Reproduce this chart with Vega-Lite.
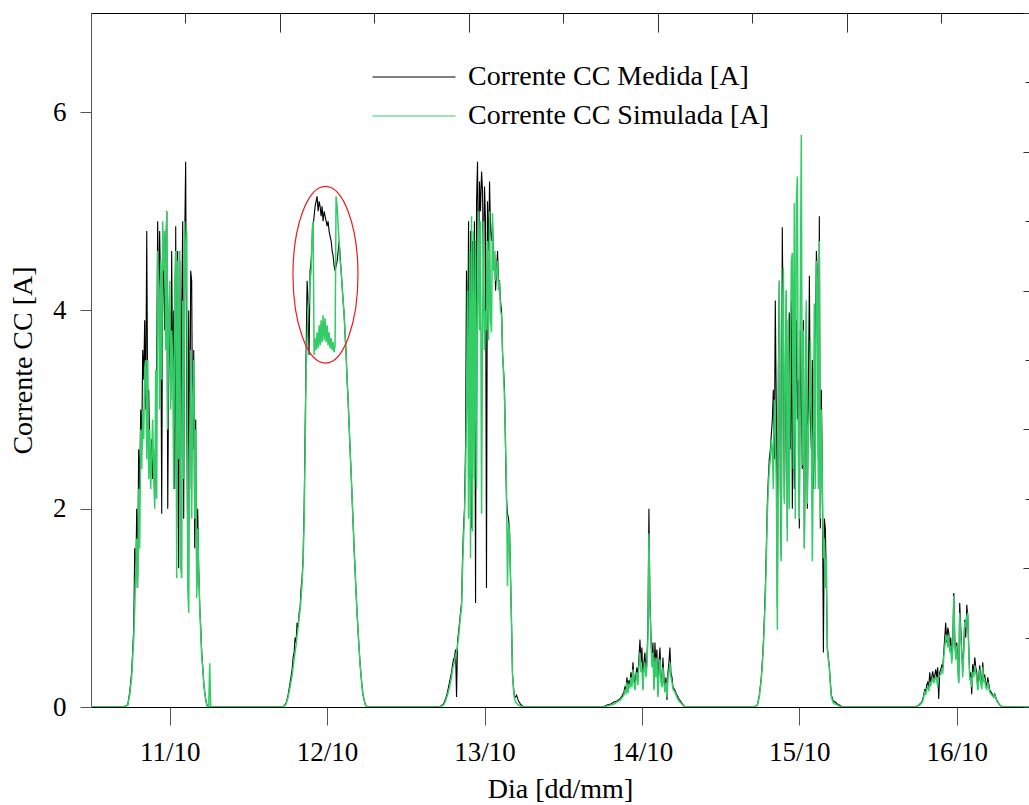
{
  "$schema": "https://vega.github.io/schema/vega-lite/v6.json",
  "width": 938,
  "height": 694,
  "autosize": {"type": "none"},
  "padding": {"left": 91, "top": 13, "right": 0, "bottom": 98},
  "background": "white",
  "config": {
    "view": {"stroke": null},
    "font": "Liberation Serif",
    "axis": {"grid": false, "labelFont": "Liberation Serif", "titleFont": "Liberation Serif", "labelColor": "#000", "titleColor": "#000", "titleFontWeight": "normal", "domainColor": "#000", "tickColor": "#444", "labelOverlap": false}
  },
  "datasets": {
    "d": [
      {"t":0,"m":0,"s":0},
      {"t":299,"m":0,"s":0},
      {"t":336,"m":0.02,"s":0.02},
      {"t":354,"m":0.15,"s":0.12},
      {"t":372,"m":0.35,"s":0.3},
      {"t":391,"m":0.8,"s":0.7},
      {"t":400,"m":1.6,"s":1.0},
      {"t":409,"m":1.2,"s":1.4},
      {"t":418,"m":2.0,"s":1.7},
      {"t":427,"m":1.3,"s":1.2},
      {"t":436,"m":2.6,"s":2.2},
      {"t":445,"m":2.2,"s":1.6},
      {"t":455,"m":3.0,"s":2.8},
      {"t":464,"m":2.6,"s":2.4},
      {"t":473,"m":3.6,"s":3.0},
      {"t":482,"m":3.3,"s":2.7},
      {"t":491,"m":3.9,"s":3.4},
      {"t":500,"m":3.0,"s":3.5},
      {"t":510,"m":4.8,"s":2.5},
      {"t":519,"m":2.9,"s":3.5},
      {"t":528,"m":3.2,"s":2.3},
      {"t":537,"m":2.6,"s":2.8},
      {"t":546,"m":2.4,"s":2.2},
      {"t":555,"m":2.7,"s":2.5},
      {"t":564,"m":2.3,"s":2.9},
      {"t":574,"m":2.6,"s":2.3},
      {"t":583,"m":2.1,"s":2.0},
      {"t":592,"m":2.5,"s":3.4},
      {"t":601,"m":3.5,"s":2.1},
      {"t":610,"m":4.9,"s":4.6},
      {"t":619,"m":3.9,"s":4.2},
      {"t":628,"m":4.8,"s":3.0},
      {"t":638,"m":4.1,"s":4.5},
      {"t":647,"m":1.95,"s":3.3},
      {"t":656,"m":4.7,"s":4.9},
      {"t":665,"m":4.3,"s":4.4},
      {"t":674,"m":3.8,"s":4.8},
      {"t":683,"m":4.6,"s":3.6},
      {"t":693,"m":5.0,"s":5.0},
      {"t":702,"m":2.0,"s":2.8},
      {"t":711,"m":3.4,"s":4.0},
      {"t":720,"m":4.0,"s":4.3},
      {"t":729,"m":3.1,"s":3.0},
      {"t":738,"m":4.6,"s":3.8},
      {"t":747,"m":3.3,"s":3.5},
      {"t":757,"m":4.0,"s":2.2},
      {"t":766,"m":2.2,"s":4.3},
      {"t":775,"m":4.85,"s":4.6},
      {"t":784,"m":1.8,"s":1.3},
      {"t":793,"m":4.6,"s":4.5},
      {"t":802,"m":1.4,"s":2.5},
      {"t":812,"m":4.5,"s":4.6},
      {"t":821,"m":2.5,"s":1.4},
      {"t":830,"m":4.0,"s":1.3},
      {"t":839,"m":4.9,"s":4.1},
      {"t":848,"m":1.9,"s":2.3},
      {"t":857,"m":4.7,"s":4.9},
      {"t":866,"m":5.5,"s":4.2},
      {"t":876,"m":3.0,"s":4.8},
      {"t":885,"m":1.5,"s":1.2},
      {"t":894,"m":4.0,"s":0.95},
      {"t":903,"m":2.2,"s":2.7},
      {"t":912,"m":4.4,"s":3.6},
      {"t":921,"m":4.3,"s":1.9},
      {"t":930,"m":2.6,"s":3.1},
      {"t":940,"m":3.6,"s":3.5},
      {"t":949,"m":1.6,"s":1.9},
      {"t":958,"m":2.9,"s":2.8},
      {"t":967,"m":1.2,"s":1.1},
      {"t":976,"m":2.0,"s":1.8},
      {"t":985,"m":1.4,"s":1.4},
      {"t":995,"m":1.0,"s":1.0},
      {"t":1004,"m":0.8,"s":0.75},
      {"t":1013,"m":0.55,"s":0.5},
      {"t":1022,"m":0.4,"s":0.4},
      {"t":1031,"m":0.25,"s":0.25},
      {"t":1040,"m":0.15,"s":0.15},
      {"t":1049,"m":0.08,"s":0.08},
      {"t":1058,"m":0.03,"s":0.03},
      {"t":1067,"m":0,"s":0},
      {"t":1077,"m":0,"s":0},
      {"t":1086,"m":0,"s":0.44},
      {"t":1095,"m":0,"s":0},
      {"t":1757,"m":0,"s":0},
      {"t":1785,"m":0.04,"s":0.03},
      {"t":1803,"m":0.12,"s":0.1},
      {"t":1821,"m":0.24,"s":0.2},
      {"t":1840,"m":0.38,"s":0.32},
      {"t":1849,"m":0.5,"s":0.4},
      {"t":1858,"m":0.55,"s":0.48},
      {"t":1867,"m":0.7,"s":0.55},
      {"t":1876,"m":0.65,"s":0.62},
      {"t":1885,"m":0.85,"s":0.72},
      {"t":1895,"m":0.8,"s":0.8},
      {"t":1904,"m":0.95,"s":0.9},
      {"t":1913,"m":1.0,"s":0.98},
      {"t":1922,"m":1.2,"s":1.1},
      {"t":1931,"m":1.3,"s":1.25},
      {"t":1940,"m":1.5,"s":1.45},
      {"t":1950,"m":2.0,"s":1.9},
      {"t":1959,"m":2.8,"s":2.6},
      {"t":1968,"m":3.6,"s":3.4},
      {"t":1977,"m":4.3,"s":3.7},
      {"t":1986,"m":4.1,"s":4.0},
      {"t":1995,"m":3.55,"s":4.1},
      {"t":2004,"m":4.4,"s":4.3},
      {"t":2014,"m":4.5,"s":4.4},
      {"t":2023,"m":4.7,"s":4.8},
      {"t":2032,"m":4.85,"s":4.9},
      {"t":2041,"m":4.95,"s":3.55},
      {"t":2050,"m":5.05,"s":3.72},
      {"t":2059,"m":5.1,"s":3.6},
      {"t":2068,"m":5.15,"s":3.78},
      {"t":2078,"m":5.0,"s":3.62},
      {"t":2087,"m":5.1,"s":3.85},
      {"t":2096,"m":5.05,"s":3.65},
      {"t":2105,"m":4.95,"s":3.9},
      {"t":2114,"m":5.05,"s":3.68},
      {"t":2123,"m":4.9,"s":3.95},
      {"t":2133,"m":5.0,"s":3.7},
      {"t":2142,"m":4.95,"s":3.92},
      {"t":2151,"m":4.9,"s":3.68},
      {"t":2160,"m":4.85,"s":3.85},
      {"t":2169,"m":4.9,"s":3.65},
      {"t":2178,"m":4.8,"s":3.78},
      {"t":2187,"m":4.75,"s":3.62},
      {"t":2197,"m":4.7,"s":3.72},
      {"t":2206,"m":4.6,"s":3.6},
      {"t":2215,"m":4.55,"s":3.68},
      {"t":2224,"m":4.45,"s":3.58},
      {"t":2233,"m":4.4,"s":3.65},
      {"t":2242,"m":4.45,"s":5.15},
      {"t":2252,"m":4.5,"s":5.05},
      {"t":2261,"m":4.6,"s":4.85},
      {"t":2270,"m":4.7,"s":4.7},
      {"t":2279,"m":4.55,"s":4.5},
      {"t":2288,"m":4.4,"s":4.4},
      {"t":2297,"m":4.25,"s":4.25},
      {"t":2306,"m":4.1,"s":4.1},
      {"t":2316,"m":3.95,"s":3.95},
      {"t":2325,"m":3.75,"s":3.75},
      {"t":2334,"m":3.55,"s":3.55},
      {"t":2343,"m":3.3,"s":3.3},
      {"t":2352,"m":3.1,"s":3.1},
      {"t":2361,"m":2.85,"s":2.85},
      {"t":2370,"m":2.6,"s":2.6},
      {"t":2380,"m":2.35,"s":2.35},
      {"t":2389,"m":2.1,"s":2.1},
      {"t":2398,"m":1.85,"s":1.85},
      {"t":2407,"m":1.6,"s":1.6},
      {"t":2416,"m":1.38,"s":1.38},
      {"t":2425,"m":1.15,"s":1.15},
      {"t":2434,"m":0.95,"s":0.95},
      {"t":2444,"m":0.75,"s":0.75},
      {"t":2453,"m":0.58,"s":0.58},
      {"t":2462,"m":0.43,"s":0.43},
      {"t":2471,"m":0.31,"s":0.31},
      {"t":2480,"m":0.2,"s":0.2},
      {"t":2489,"m":0.12,"s":0.12},
      {"t":2499,"m":0.07,"s":0.07},
      {"t":2508,"m":0.03,"s":0.03},
      {"t":2517,"m":0.01,"s":0.01},
      {"t":2535,"m":0,"s":0},
      {"t":3188,"m":0,"s":0},
      {"t":3225,"m":0.03,"s":0.02},
      {"t":3243,"m":0.08,"s":0.06},
      {"t":3261,"m":0.15,"s":0.12},
      {"t":3280,"m":0.25,"s":0.2},
      {"t":3298,"m":0.35,"s":0.3},
      {"t":3307,"m":0.42,"s":0.38},
      {"t":3316,"m":0.48,"s":0.42},
      {"t":3325,"m":0.5,"s":0.46},
      {"t":3335,"m":0.58,"s":0.52},
      {"t":3344,"m":0.1,"s":0.56},
      {"t":3353,"m":0.66,"s":0.62},
      {"t":3362,"m":0.75,"s":0.7},
      {"t":3371,"m":0.85,"s":0.8},
      {"t":3380,"m":0.95,"s":0.92},
      {"t":3390,"m":1.05,"s":1.0},
      {"t":3399,"m":1.5,"s":1.4},
      {"t":3408,"m":1.8,"s":1.7},
      {"t":3417,"m":2.0,"s":1.95},
      {"t":3426,"m":2.6,"s":2.3},
      {"t":3435,"m":4.4,"s":3.0},
      {"t":3444,"m":3.2,"s":4.2},
      {"t":3454,"m":4.9,"s":1.9},
      {"t":3463,"m":2.3,"s":4.6},
      {"t":3472,"m":4.8,"s":1.5},
      {"t":3481,"m":1.8,"s":4.95},
      {"t":3490,"m":4.7,"s":1.77},
      {"t":3499,"m":3.9,"s":4.8},
      {"t":3508,"m":4.9,"s":2.3},
      {"t":3518,"m":1.05,"s":4.7},
      {"t":3527,"m":5.1,"s":2.2},
      {"t":3536,"m":5.5,"s":3.9},
      {"t":3545,"m":4.2,"s":5.0},
      {"t":3554,"m":5.3,"s":3.8},
      {"t":3563,"m":5.0,"s":4.9},
      {"t":3573,"m":5.4,"s":1.95},
      {"t":3582,"m":5.2,"s":3.8},
      {"t":3591,"m":4.3,"s":4.9},
      {"t":3600,"m":5.25,"s":3.6},
      {"t":3609,"m":4.9,"s":4.0},
      {"t":3618,"m":1.2,"s":3.8},
      {"t":3627,"m":5.1,"s":4.7},
      {"t":3637,"m":4.6,"s":3.7},
      {"t":3646,"m":5.3,"s":5.0},
      {"t":3655,"m":4.8,"s":3.9},
      {"t":3664,"m":4.7,"s":3.78},
      {"t":3673,"m":4.9,"s":4.98},
      {"t":3682,"m":4.5,"s":4.4},
      {"t":3692,"m":4.6,"s":4.6},
      {"t":3701,"m":4.2,"s":4.3},
      {"t":3710,"m":4.4,"s":4.4},
      {"t":3719,"m":4.6,"s":4.5},
      {"t":3728,"m":4.3,"s":4.2},
      {"t":3737,"m":4.3,"s":4.3},
      {"t":3746,"m":4.1,"s":4.0},
      {"t":3756,"m":3.99,"s":3.95},
      {"t":3765,"m":3.55,"s":3.6},
      {"t":3774,"m":3.4,"s":3.35},
      {"t":3783,"m":3.2,"s":3.1},
      {"t":3792,"m":2.6,"s":2.7},
      {"t":3801,"m":2.1,"s":2.2},
      {"t":3810,"m":1.95,"s":1.22},
      {"t":3820,"m":1.9,"s":1.85},
      {"t":3829,"m":1.77,"s":1.75},
      {"t":3838,"m":1.3,"s":1.3},
      {"t":3847,"m":0.85,"s":0.85},
      {"t":3856,"m":0.33,"s":0.33},
      {"t":3865,"m":0.2,"s":0.18},
      {"t":3875,"m":0.1,"s":0.08},
      {"t":3884,"m":0.1,"s":0.05},
      {"t":3893,"m":0.12,"s":0.04},
      {"t":3911,"m":0.06,"s":0.02},
      {"t":3929,"m":0.03,"s":0.01},
      {"t":3957,"m":0,"s":0},
      {"t":4683,"m":0,"s":0},
      {"t":4720,"m":0.02,"s":0.01},
      {"t":4756,"m":0.03,"s":0.02},
      {"t":4784,"m":0.05,"s":0.03},
      {"t":4811,"m":0.06,"s":0.05},
      {"t":4839,"m":0.08,"s":0.07},
      {"t":4857,"m":0.11,"s":0.09},
      {"t":4875,"m":0.15,"s":0.12},
      {"t":4884,"m":0.2,"s":0.16},
      {"t":4894,"m":0.18,"s":0.14},
      {"t":4903,"m":0.3,"s":0.25},
      {"t":4912,"m":0.2,"s":0.14},
      {"t":4921,"m":0.27,"s":0.22},
      {"t":4930,"m":0.22,"s":0.2},
      {"t":4939,"m":0.35,"s":0.3},
      {"t":4948,"m":0.25,"s":0.2},
      {"t":4958,"m":0.45,"s":0.38},
      {"t":4967,"m":0.3,"s":0.25},
      {"t":4976,"m":0.2,"s":0.17},
      {"t":4985,"m":0.32,"s":0.28},
      {"t":4994,"m":0.4,"s":0.35},
      {"t":5003,"m":0.3,"s":0.22},
      {"t":5013,"m":0.5,"s":0.42},
      {"t":5022,"m":0.68,"s":0.55},
      {"t":5031,"m":0.45,"s":0.35},
      {"t":5040,"m":0.6,"s":0.4},
      {"t":5049,"m":0.2,"s":0.17},
      {"t":5058,"m":0.45,"s":0.38},
      {"t":5067,"m":0.55,"s":0.45},
      {"t":5077,"m":0.35,"s":0.3},
      {"t":5086,"m":0.5,"s":0.42},
      {"t":5095,"m":0.8,"s":0.7},
      {"t":5104,"m":2.0,"s":1.75},
      {"t":5113,"m":1.1,"s":1.0},
      {"t":5122,"m":0.75,"s":0.68},
      {"t":5132,"m":0.45,"s":0.4},
      {"t":5141,"m":0.65,"s":0.55},
      {"t":5150,"m":0.2,"s":0.17},
      {"t":5159,"m":0.65,"s":0.5},
      {"t":5168,"m":0.4,"s":0.3},
      {"t":5177,"m":0.58,"s":0.5},
      {"t":5186,"m":0.12,"s":0.1},
      {"t":5196,"m":0.45,"s":0.35},
      {"t":5205,"m":0.6,"s":0.48},
      {"t":5214,"m":0.3,"s":0.25},
      {"t":5223,"m":0.22,"s":0.2},
      {"t":5232,"m":0.5,"s":0.4},
      {"t":5241,"m":0.3,"s":0.25},
      {"t":5250,"m":0.17,"s":0.15},
      {"t":5260,"m":0.3,"s":0.25},
      {"t":5269,"m":0.07,"s":0.1},
      {"t":5278,"m":0.35,"s":0.3},
      {"t":5287,"m":0.45,"s":0.35},
      {"t":5296,"m":0.6,"s":0.45},
      {"t":5305,"m":0.35,"s":0.3},
      {"t":5315,"m":0.3,"s":0.25},
      {"t":5324,"m":0.2,"s":0.18},
      {"t":5342,"m":0.17,"s":0.15},
      {"t":5360,"m":0.12,"s":0.1},
      {"t":5379,"m":0.08,"s":0.06},
      {"t":5406,"m":0.04,"s":0.03},
      {"t":5433,"m":0,"s":0},
      {"t":6068,"m":0,"s":0},
      {"t":6096,"m":0.02,"s":0.02},
      {"t":6114,"m":0.12,"s":0.1},
      {"t":6132,"m":0.3,"s":0.28},
      {"t":6141,"m":0.45,"s":0.42},
      {"t":6151,"m":0.65,"s":0.6},
      {"t":6160,"m":0.9,"s":0.85},
      {"t":6169,"m":1.2,"s":1.1},
      {"t":6178,"m":1.6,"s":1.5},
      {"t":6187,"m":2.05,"s":1.95},
      {"t":6196,"m":2.3,"s":2.2},
      {"t":6205,"m":2.5,"s":2.4},
      {"t":6215,"m":2.6,"s":2.5},
      {"t":6224,"m":2.75,"s":2.7},
      {"t":6233,"m":2.9,"s":2.6},
      {"t":6242,"m":3.2,"s":2.2},
      {"t":6251,"m":2.5,"s":3.1},
      {"t":6260,"m":4.1,"s":2.9},
      {"t":6270,"m":2.9,"s":2.2},
      {"t":6279,"m":1.0,"s":0.78},
      {"t":6288,"m":3.4,"s":3.0},
      {"t":6297,"m":4.3,"s":4.3},
      {"t":6306,"m":2.2,"s":2.5},
      {"t":6315,"m":1.5,"s":1.47},
      {"t":6324,"m":4.84,"s":3.9},
      {"t":6334,"m":3.5,"s":4.43},
      {"t":6343,"m":2.1,"s":2.05},
      {"t":6352,"m":3.0,"s":3.4},
      {"t":6361,"m":4.2,"s":4.2},
      {"t":6370,"m":1.8,"s":1.67},
      {"t":6379,"m":3.5,"s":3.9},
      {"t":6388,"m":3.98,"s":2.0},
      {"t":6398,"m":2.6,"s":3.5},
      {"t":6407,"m":4.1,"s":4.5},
      {"t":6416,"m":2.0,"s":4.58},
      {"t":6425,"m":3.6,"s":2.4},
      {"t":6434,"m":2.2,"s":5.08},
      {"t":6443,"m":3.0,"s":1.9},
      {"t":6453,"m":3.9,"s":5.1},
      {"t":6462,"m":2.9,"s":5.35},
      {"t":6471,"m":3.3,"s":2.5},
      {"t":6480,"m":1.8,"s":1.9},
      {"t":6489,"m":3.8,"s":4.2},
      {"t":6498,"m":3.1,"s":5.77},
      {"t":6507,"m":2.4,"s":2.44},
      {"t":6517,"m":3.9,"s":3.8},
      {"t":6526,"m":1.6,"s":1.6},
      {"t":6535,"m":2.8,"s":3.0},
      {"t":6544,"m":4.0,"s":4.1},
      {"t":6553,"m":2.0,"s":2.05},
      {"t":6562,"m":3.1,"s":2.8},
      {"t":6572,"m":4.35,"s":3.0},
      {"t":6581,"m":2.9,"s":3.7},
      {"t":6590,"m":2.6,"s":2.7},
      {"t":6599,"m":3.5,"s":1.47},
      {"t":6608,"m":2.2,"s":2.6},
      {"t":6617,"m":2.6,"s":4.07},
      {"t":6626,"m":3.5,"s":2.2},
      {"t":6636,"m":4.6,"s":4.5},
      {"t":6645,"m":4.35,"s":4.3},
      {"t":6654,"m":2.5,"s":2.2},
      {"t":6663,"m":4.95,"s":4.7},
      {"t":6672,"m":1.8,"s":1.9},
      {"t":6681,"m":3.2,"s":3.0},
      {"t":6690,"m":2.4,"s":2.3},
      {"t":6700,"m":0.55,"s":1.5},
      {"t":6709,"m":1.9,"s":1.7},
      {"t":6718,"m":1.8,"s":1.2},
      {"t":6727,"m":1.3,"s":1.5},
      {"t":6736,"m":0.6,"s":0.6},
      {"t":6745,"m":0.5,"s":0.48},
      {"t":6755,"m":0.4,"s":0.38},
      {"t":6764,"m":0.25,"s":0.22},
      {"t":6773,"m":0.12,"s":0.1},
      {"t":6791,"m":0.06,"s":0.04},
      {"t":6809,"m":0.05,"s":0.03},
      {"t":6828,"m":0.03,"s":0.02},
      {"t":6846,"m":0.02,"s":0.01},
      {"t":6873,"m":0,"s":0},
      {"t":7527,"m":0,"s":0},
      {"t":7563,"m":0.01,"s":0.01},
      {"t":7581,"m":0.03,"s":0.02},
      {"t":7600,"m":0.05,"s":0.04},
      {"t":7609,"m":0.08,"s":0.06},
      {"t":7618,"m":0.12,"s":0.1},
      {"t":7627,"m":0.18,"s":0.15},
      {"t":7636,"m":0.15,"s":0.12},
      {"t":7645,"m":0.22,"s":0.18},
      {"t":7655,"m":0.25,"s":0.2},
      {"t":7664,"m":0.2,"s":0.16},
      {"t":7673,"m":0.35,"s":0.25},
      {"t":7682,"m":0.25,"s":0.22},
      {"t":7691,"m":0.3,"s":0.26},
      {"t":7700,"m":0.36,"s":0.3},
      {"t":7710,"m":0.28,"s":0.24},
      {"t":7719,"m":0.32,"s":0.28},
      {"t":7728,"m":0.38,"s":0.3},
      {"t":7737,"m":0.3,"s":0.27},
      {"t":7746,"m":0.4,"s":0.2},
      {"t":7755,"m":0.08,"s":0.3},
      {"t":7764,"m":0.35,"s":0.32},
      {"t":7774,"m":0.38,"s":0.33},
      {"t":7783,"m":0.42,"s":0.37},
      {"t":7792,"m":0.4,"s":0.35},
      {"t":7801,"m":0.55,"s":0.5},
      {"t":7810,"m":0.7,"s":0.6},
      {"t":7819,"m":0.85,"s":0.7},
      {"t":7828,"m":0.65,"s":0.73},
      {"t":7838,"m":0.8,"s":0.6},
      {"t":7847,"m":0.75,"s":0.72},
      {"t":7856,"m":0.6,"s":0.55},
      {"t":7865,"m":0.7,"s":0.62},
      {"t":7874,"m":0.48,"s":0.44},
      {"t":7883,"m":0.62,"s":0.58},
      {"t":7893,"m":1.15,"s":1.12},
      {"t":7902,"m":0.7,"s":0.65},
      {"t":7911,"m":0.5,"s":0.48},
      {"t":7920,"m":0.65,"s":0.62},
      {"t":7929,"m":0.45,"s":0.4},
      {"t":7938,"m":0.25,"s":0.24},
      {"t":7947,"m":1.05,"s":0.95},
      {"t":7957,"m":0.8,"s":0.7},
      {"t":7966,"m":0.55,"s":0.52},
      {"t":7975,"m":0.4,"s":0.3},
      {"t":7984,"m":0.6,"s":0.55},
      {"t":7993,"m":0.88,"s":0.86},
      {"t":8002,"m":0.7,"s":0.8},
      {"t":8012,"m":1.03,"s":0.92},
      {"t":8021,"m":0.9,"s":0.95},
      {"t":8030,"m":0.6,"s":0.55},
      {"t":8039,"m":0.3,"s":0.27},
      {"t":8048,"m":0.35,"s":0.3},
      {"t":8057,"m":0.13,"s":0.2},
      {"t":8066,"m":0.43,"s":0.35},
      {"t":8076,"m":0.35,"s":0.3},
      {"t":8085,"m":0.5,"s":0.42},
      {"t":8094,"m":0.4,"s":0.35},
      {"t":8103,"m":0.35,"s":0.3},
      {"t":8112,"m":0.18,"s":0.17},
      {"t":8121,"m":0.3,"s":0.25},
      {"t":8130,"m":0.42,"s":0.38},
      {"t":8140,"m":0.3,"s":0.24},
      {"t":8149,"m":0.22,"s":0.18},
      {"t":8158,"m":0.45,"s":0.4},
      {"t":8167,"m":0.3,"s":0.25},
      {"t":8176,"m":0.32,"s":0.28},
      {"t":8185,"m":0.25,"s":0.2},
      {"t":8195,"m":0.2,"s":0.18},
      {"t":8204,"m":0.3,"s":0.25},
      {"t":8222,"m":0.17,"s":0.15},
      {"t":8240,"m":0.14,"s":0.12},
      {"t":8259,"m":0.1,"s":0.1},
      {"t":8268,"m":0.13,"s":0.12},
      {"t":8286,"m":0.07,"s":0.06},
      {"t":8313,"m":0.02,"s":0.02},
      {"t":8341,"m":0,"s":0},
      {"t":8581,"m":0,"s":0}
    ]
  },
  "data": {"name": "d"},
  "resolve": {"axis": {"x": "independent", "y": "independent"}},
  "layer": [
    {
      "mark": {"type": "line", "strokeWidth": 1.1, "clip": true},
      "encoding": {
        "x": {"field": "t", "type": "quantitative", "scale": {"domain": [0, 8581], "nice": false, "zero": false},
          "axis": {"orient": "bottom", "values": [720, 2160, 3600, 5040, 6480, 7920], "labelExpr": "(floor(datum.value/1440)+11) + '/10'", "tickSize": 18, "tickColor": "#555", "labelFontSize": 27, "labelPadding": 14, "title": "Dia [dd/mm]", "titleFontSize": 28, "titlePadding": 10, "domainColor": "#000"}},
        "y": {"field": "m", "type": "quantitative", "scale": {"domain": [0, 7], "nice": false},
          "axis": {"orient": "left", "values": [0, 2, 4, 6], "tickSize": 11, "tickColor": "#555", "labelFontSize": 27, "labelPadding": 14, "title": "Corrente CC [A]", "titleFontSize": 28, "titlePadding": 15, "domainColor": "#555"}},
        "color": {"datum": "Corrente CC Medida [A]", "type": "nominal",
          "scale": {"domain": ["Corrente CC Medida [A]"], "range": ["#000000"]},
          "legend": {"orient": "none", "legendX": 281, "legendY": 22, "direction": "vertical", "title": null, "symbolType": "stroke", "symbolSize": 6889, "symbolStrokeWidth": 1, "labelFontSize": 28, "labelFont": "Liberation Serif", "labelColor": "#000", "labelOffset": 12, "labelLimit": 500, "padding": 0}}
      }
    },
    {
      "mark": {"type": "line", "strokeWidth": 1.5, "clip": true},
      "encoding": {
        "x": {"field": "t", "type": "quantitative",
          "axis": {"orient": "top", "values": [0, 1728, 3456, 5184, 6912], "labels": false, "tickSize": -19, "tickColor": "#333", "title": null, "domain": true, "domainColor": "#000"}},
        "y": {"field": "s", "type": "quantitative",
          "axis": {"orient": "right", "values": [0, 1.4, 2.8, 4.2, 5.6, 7], "labels": false, "tickSize": -6, "tickColor": "#333", "title": null, "domain": false}},
        "stroke": {"datum": "Corrente CC Simulada [A]", "type": "nominal",
          "scale": {"domain": ["Corrente CC Simulada [A]"], "range": ["#33cc66"]},
          "legend": {"orient": "none", "legendX": 281, "legendY": 61, "direction": "vertical", "title": null, "symbolType": "stroke", "symbolSize": 6889, "symbolStrokeWidth": 1, "labelFontSize": 28, "labelFont": "Liberation Serif", "labelColor": "#000", "labelOffset": 12, "labelLimit": 500, "padding": 0}}
      }
    },
    {
      "data": {"values": [{}]},
      "mark": {"type": "point", "shape": "M0,-2.72A1,2.72 0 1,1 0,2.72A1,2.72 0 1,1 0,-2.72Z", "size": 4225, "filled": false, "stroke": "#ee1c1c", "strokeWidth": 1.2, "opacity": 1},
      "encoding": {
        "x": {"datum": 2145, "type": "quantitative",
          "axis": {"orient": "top", "values": [864, 2592, 4320, 6048, 7776], "labels": false, "tickSize": -10, "tickColor": "#333", "title": null, "domain": false}},
        "y": {"datum": 4.36, "type": "quantitative",
          "axis": {"orient": "right", "values": [0.7, 2.1, 3.5, 4.9, 6.3], "labels": false, "tickSize": -4, "tickColor": "#333", "title": null, "domain": false}}
      }
    }
  ]
}
